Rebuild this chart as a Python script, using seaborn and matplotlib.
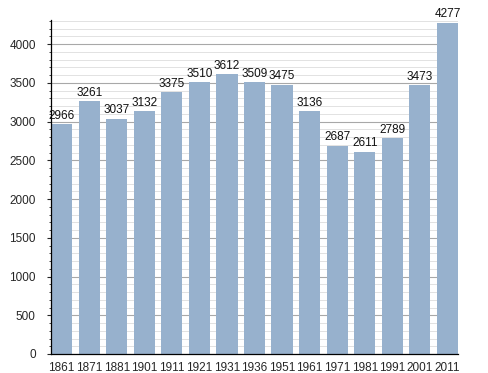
import matplotlib
matplotlib.use('Agg')
import matplotlib.pyplot as plt
from matplotlib.ticker import MultipleLocator
import numpy as np
import pandas as pd
import seaborn as sns

years = ['1861', '1871', '1881', '1901', '1911', '1921', '1931', '1936',
         '1951', '1961', '1971', '1981', '1991', '2001', '2011']
population = [2966, 3261, 3037, 3132, 3375, 3510, 3612, 3509,
              3475, 3136, 2687, 2611, 2789, 3473, 4277]

df = pd.DataFrame({'year': years, 'pop': population})

sns.set_style('white')
plt.rcParams['font.family'] = ['Liberation Sans Narrow', 'Liberation Sans', 'DejaVu Sans']

fig = plt.figure(figsize=(4.88, 3.73), dpi=100)
ax = fig.add_axes([51/488, 19/373, 407/488, 334/373])

sns.barplot(x='year', y='pop', data=df, color='#97b1cd', saturation=1,
            width=0.77, ax=ax, zorder=2, linewidth=0)

# labels above the bars
for i, v in enumerate(population):
  ax.text(i, v + 30, str(v), ha='center', va='bottom', fontsize=8.5, color='#111111')

ax.set_ylim(0, 4310)
ax.set_xlim(-0.385, len(years) - 1 + 0.385)
ax.yaxis.set_major_locator(MultipleLocator(500))
ax.yaxis.set_minor_locator(MultipleLocator(100))
ax.grid(which='major', axis='y', color='#a8a8a8', linewidth=0.8, zorder=0)
ax.grid(which='minor', axis='y', color='#e2e2e2', linewidth=0.7, zorder=0)
ax.set_axisbelow(True)

for s in ['top', 'right']:
  ax.spines[s].set_visible(False)
ax.spines['left'].set_color('black')
ax.spines['bottom'].set_color('black')
ax.spines['left'].set_linewidth(0.9)
ax.spines['bottom'].set_linewidth(0.9)

ax.tick_params(axis='y', which='major', left=True, length=3, width=0.8, labelsize=8.5, pad=8)
ax.tick_params(axis='y', which='minor', left=True, length=1.5, width=0.6)
ax.tick_params(axis='x', bottom=False, labelsize=8.5, pad=2.5)
ax.set_xlabel('')
ax.set_ylabel('')

plt.savefig('out.png', dpi=100)
